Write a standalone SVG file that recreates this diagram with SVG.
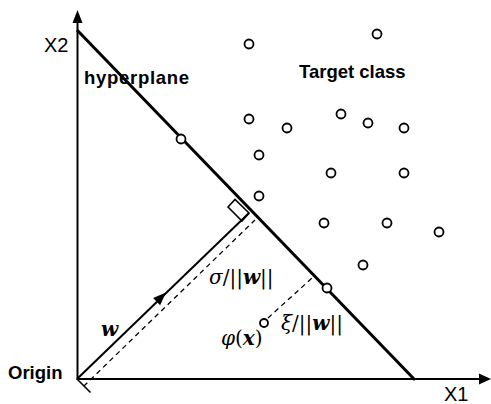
<svg xmlns="http://www.w3.org/2000/svg" width="491" height="404" viewBox="0 0 491 404">
<style>
.ax{stroke:#000;stroke-width:2;fill:none}
.hp{stroke:#000;stroke-width:3;fill:none}
.ln{stroke:#000;stroke-width:2;fill:none}
.ds{stroke:#000;stroke-width:1.3;stroke-dasharray:5 4;fill:none}
.pt{stroke:#000;stroke-width:1.8;fill:#fff}
.lab{font-family:"Liberation Sans",Arial,sans-serif;font-size:18.5px;font-weight:bold;fill:#000}
.axl{font-family:"Liberation Sans",Arial,sans-serif;font-size:20px;fill:#000}
.m{font-family:"DejaVu Serif","Liberation Serif",serif;font-size:20px;fill:#000}
</style>
<rect width="491" height="404" fill="#fff"/>
<g id="connectors">
  <line class="ax" x1="77.5" y1="380" x2="77.5" y2="22"/>
  <polygon points="77.5,10 72.5,23 82.5,23" fill="#000"/>
  <line class="ax" x1="77" y1="379" x2="480" y2="379"/>
  <polygon points="491,379 479,373.5 479,384.5" fill="#000"/>
  <line class="hp" x1="77" y1="30" x2="415" y2="380"/>
  <line class="ln" x1="77" y1="379" x2="249" y2="213"/>
  <polygon points="166,292.6 160.1,305.2 153.1,298" fill="#000"/>
  <polygon points="228,207 235,199.5 249,213 242,221" fill="none" stroke="#000" stroke-width="1.6"/>
  <line class="ds" x1="83.7" y1="386.2" x2="255" y2="220"/>
  <line x1="77" y1="379" x2="90.5" y2="392.5" stroke="#000" stroke-width="1.6"/>
  <line class="ds" x1="268" y1="318" x2="312" y2="278"/>
</g>
<g id="points">
  <circle class="pt" cx="249" cy="44" r="4.5"/>
  <circle class="pt" cx="377" cy="34" r="4.5"/>
  <circle class="pt" cx="249" cy="119" r="4.5"/>
  <circle class="pt" cx="287" cy="128" r="4.5"/>
  <circle class="pt" cx="341" cy="114" r="4.5"/>
  <circle class="pt" cx="368" cy="123" r="4.5"/>
  <circle class="pt" cx="404" cy="128" r="4.5"/>
  <circle class="pt" cx="259" cy="155" r="4.5"/>
  <circle class="pt" cx="331" cy="173" r="4.5"/>
  <circle class="pt" cx="404" cy="173" r="4.5"/>
  <circle class="pt" cx="259" cy="196" r="4.5"/>
  <circle class="pt" cx="324" cy="223" r="4.5"/>
  <circle class="pt" cx="387" cy="223" r="4.5"/>
  <circle class="pt" cx="439" cy="232" r="4.5"/>
  <circle class="pt" cx="363" cy="265" r="4.5"/>
  <circle class="pt" cx="327" cy="288" r="4.5"/>
  <circle class="pt" cx="181" cy="139" r="4.5"/>
  <circle id="phi-point" class="pt" cx="264" cy="323" r="4"/>
</g>
<g id="labels">
  <text class="axl" x="44" y="52">X2</text>
  <text class="axl" x="444" y="401">X1</text>
  <text class="lab" x="84" y="84" textLength="105" lengthAdjust="spacing">hyperplane</text>
  <text class="lab" x="299" y="78">Target class</text>
  <text class="lab" x="8" y="378.5">Origin</text>
  <text class="m" x="101" y="336" font-style="italic" font-weight="bold">w</text>
  <text class="m" x="209" y="284"><tspan font-style="italic">σ</tspan>/||<tspan font-style="italic" font-weight="bold">w</tspan>||</text>
  <text class="m" x="221" y="345"><tspan font-style="italic">φ</tspan>(<tspan font-style="italic" font-weight="bold">x</tspan>)</text>
  <text class="m" x="281" y="330"><tspan font-style="italic">ξ</tspan>/||<tspan font-style="italic" font-weight="bold">w</tspan>||</text>
</g>
</svg>
